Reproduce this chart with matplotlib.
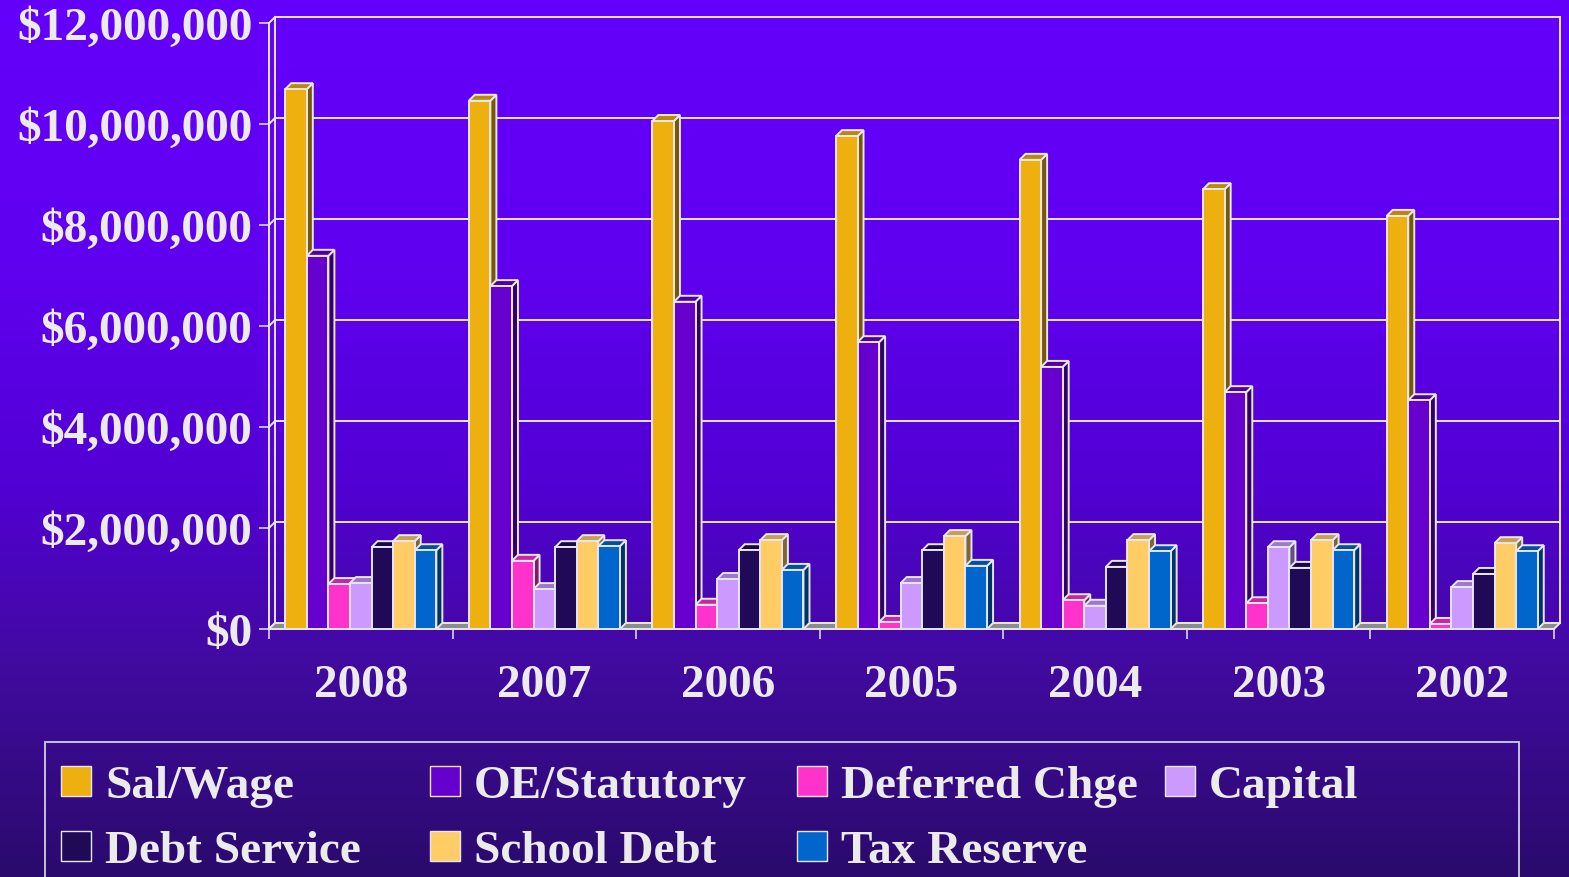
import matplotlib
matplotlib.use('Agg')
import matplotlib.pyplot as plt
from matplotlib.patches import Polygon, Rectangle
from matplotlib.colors import LinearSegmentedColormap, to_rgb
from matplotlib.ticker import FuncFormatter, FixedLocator
import numpy as np

# data (dollars)
years = ['2008', '2007', '2006', '2005', '2004', '2003', '2002']
series = ['Sal/Wage', 'OE/Statutory', 'Deferred Chge', 'Capital',
          'Debt Service', 'School Debt', 'Tax Reserve']
sal_wage = [10690000, 10460000, 10060000, 9760000, 9290000, 8710000, 8180000]
oe_statutory = [7390000, 6790000, 6480000, 5680000, 5190000, 4690000, 4530000]
deferred_chge = [890000, 1350000, 480000, 140000, 570000, 510000, 100000]
capital = [910000, 790000, 990000, 910000, 460000, 1620000, 830000]
debt_service = [1620000, 1620000, 1560000, 1560000, 1230000, 1210000, 1090000]
school_debt = [1740000, 1740000, 1760000, 1840000, 1760000, 1760000, 1700000]
tax_reserve = [1560000, 1640000, 1170000, 1250000, 1540000, 1560000, 1540000]
y_ticks = [0, 2000000, 4000000, 6000000, 8000000, 10000000, 12000000]

values = [sal_wage, oe_statutory, deferred_chge, capital,
          debt_service, school_debt, tax_reserve]
colors = ['#EDB00E', '#6600CC', '#FF33CC', '#CC99FF',
          '#200A58', '#FFCC66', '#0066CC']

W, H = 1569, 878
plt.rcParams['font.family'] = ['Liberation Serif', 'DejaVu Serif']
plt.rcParams['font.weight'] = 'bold'
txt = '#EBEBEB'
edge = '#E6E6EE'

fig = plt.figure(figsize=(W / 100, H / 100), dpi=100)

# background gradient
bg = fig.add_axes([0, 0, 1, 1], zorder=-5)
cmap = LinearSegmentedColormap.from_list('bg', [
    (0.0, '#6400FA'), (0.3, '#6000F0'), (0.55, '#5200D4'),
    (0.75, '#420AA2'), (1.0, '#2A0A6C')])
bg.imshow(np.linspace(0, 1, 256).reshape(-1, 1), aspect='auto', cmap=cmap,
          extent=[0, 1, 0, 1], origin='upper')
bg.axis('off')

# main axes = front plane of the 3D box
x0p, x1p, y0p, y1p = 269, 1554, 630, 24
ax = fig.add_axes([x0p / W, 1 - y0p / H, (x1p - x0p) / W, (y0p - y1p) / H])
ax.set_facecolor('none')
n = len(years)
ax.set_xlim(0, n)
ax.set_ylim(0, 12000000)
for s in ax.spines.values():
    s.set_visible(False)

dx = 6 * n / (x1p - x0p)
dy = 6 * 12000000 / (y0p - y1p)
lw = 1.4

# floor
ax.add_patch(Polygon([(0, 0), (n, 0), (n + dx, dy), (dx, dy)], closed=True,
                     facecolor='#8C8C8C', edgecolor=edge, lw=lw, zorder=2, clip_on=False))
# back wall grid and frame
for v in y_ticks:
    ax.plot([dx, n + dx], [v + dy, v + dy], color=edge, lw=lw, zorder=1, clip_on=False)
    ax.plot([0, dx], [v, v + dy], color=edge, lw=lw, zorder=1, clip_on=False)
ax.plot([dx, dx], [dy, 12000000 + dy], color=edge, lw=lw, zorder=1, clip_on=False)
ax.plot([n + dx, n + dx], [dy, 12000000 + dy], color=edge, lw=lw, zorder=1, clip_on=False)
ax.plot([0, 0], [0, 12000000], color=edge, lw=lw, zorder=3, clip_on=False)
ax.plot([0, n], [0, 0], color=edge, lw=lw, zorder=3, clip_on=False)


def shade(c, f):
    r, g, b = to_rgb(c)
    return (r * f, g * f, b * f)


w = 0.1176
k = len(series)
for j, (vals, c) in enumerate(zip(values, colors)):
    xs = [i + 0.5 + (j - k / 2) * w for i in range(n)]
    bars = ax.bar(xs, vals, w, align='edge', color=c, edgecolor=edge, lw=lw)
    for i, (p, xl, v) in enumerate(zip(bars.patches, xs, vals)):
        base = 10 + (i * k + j) * 3
        p.set_zorder(base + 2)
        p.set_clip_on(False)
        xr = xl + w
        ax.add_patch(Polygon([(xr, 0), (xr + dx, dy), (xr + dx, v + dy), (xr, v)],
                             closed=True, facecolor=shade(c, 0.5), edgecolor=edge,
                             lw=lw, zorder=base, clip_on=False))
        ax.add_patch(Polygon([(xl, v), (xr, v), (xr + dx, v + dy), (xl + dx, v + dy)],
                             closed=True, facecolor=shade(c, 0.78), edgecolor=edge,
                             lw=lw, zorder=base + 1, clip_on=False))

# ticks and labels
ax.yaxis.set_major_locator(FixedLocator(y_ticks))
ax.yaxis.set_major_formatter(FuncFormatter(lambda v, pos: '${:,.0f}'.format(v)))
ax.xaxis.set_major_locator(FixedLocator(range(n + 1)))
ax.xaxis.set_major_formatter(FuncFormatter(lambda v, pos: ''))
ax.xaxis.set_minor_locator(FixedLocator([i + 0.5 for i in range(n)]))
ax.set_xticklabels(years, minor=True)
ax.tick_params(axis='y', which='major', direction='out', length=7, width=1.1,
               color=edge, labelcolor=txt, labelsize=34, pad=5)
ax.tick_params(axis='x', which='major', direction='out', length=7, width=1.1, color=edge)
ax.tick_params(axis='x', which='minor', length=0, labelcolor=txt, labelsize=34, pad=25)

# legend box, drawn by hand (fixed-width columns)
fig.add_artist(Rectangle((45 / W, -0.05), (1519 - 45) / W, 0.05 + 1 - 743 / H,
                         transform=fig.transFigure, facecolor='none',
                         edgecolor='#D0D0E0', lw=1.3))
col_x = [61, 430, 797, 1165]
row_y = [767, 832]
for idx, (name, c) in enumerate(zip(series, colors)):
    r, cc = divmod(idx, 4)
    mx, my = col_x[cc], row_y[r]
    fig.add_artist(Rectangle((mx / W, 1 - (my + 30) / H), 30 / W, 30 / H,
                             transform=fig.transFigure, facecolor=c,
                             edgecolor=edge, lw=1.0))
    fig.text((mx + 44) / W, 1 - (my + 31) / H, name, color=txt, fontsize=34,
             fontweight='bold', va='baseline', ha='left')

fig.savefig('out.png', dpi=100)
